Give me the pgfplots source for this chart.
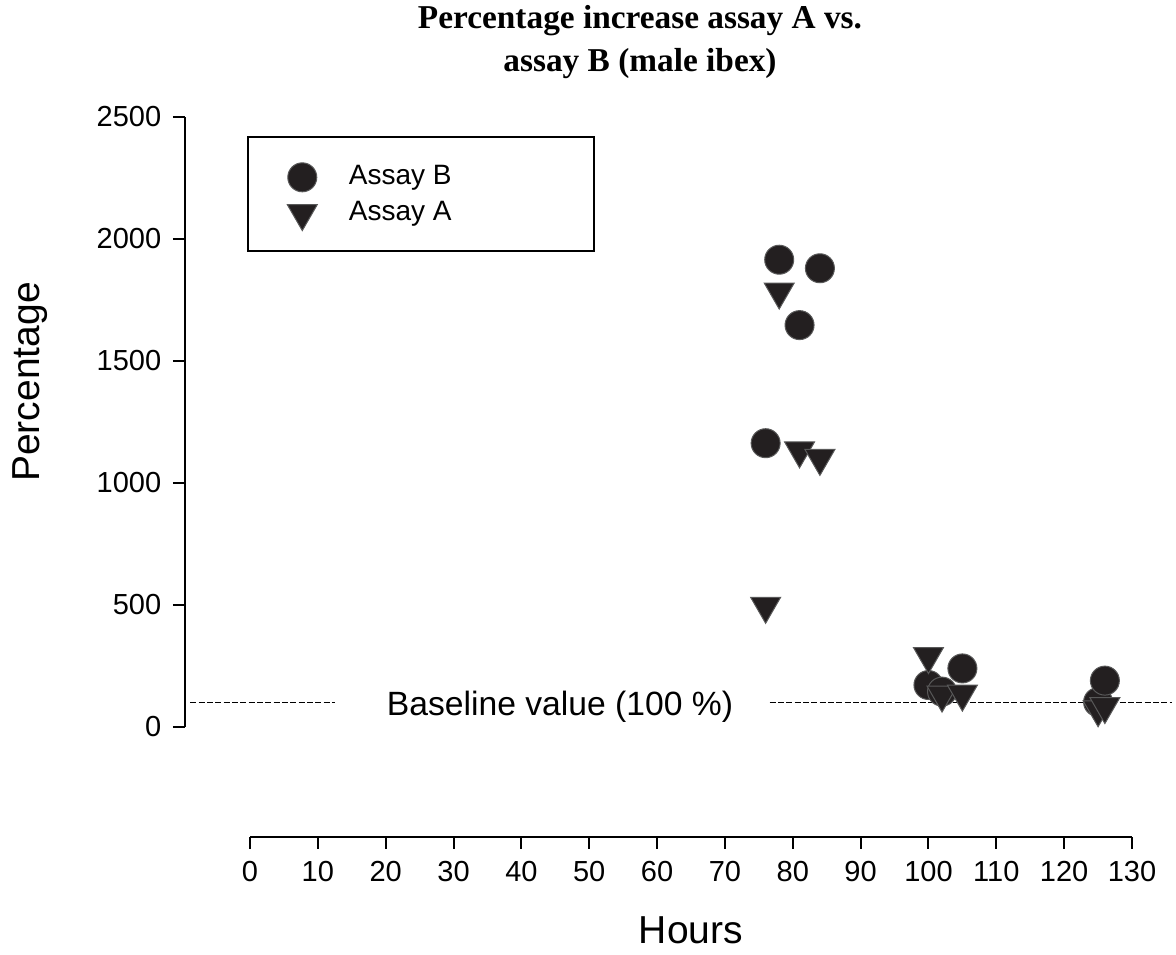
\documentclass[border=0pt]{standalone}
\usepackage{pgfplots}
\pgfplotsset{compat=1.18}
\usepackage{fontspec}
\setmainfont{Liberation Sans}
\newfontfamily\titlefont{Liberation Serif}
\definecolor{markfill}{RGB}{35,31,32}

% Assay B (circles) and Assay A (triangles), hours vs percentage
\pgfplotstableread{
x y
78 1915
84 1880
81 1647
76 1163
100 172
102 145
105 240
125 102
126 190
}\assayB
\pgfplotstableread{
x y
78 1784
81 1133
84 1102
76 496
100 290
102 132
105 136
125 72
126 85
}\assayA

\begin{document}
\begin{tikzpicture}
\path (-55.5pt,-66.9pt) rectangle (297.3pt,218.1pt);
\begin{axis}[
  at={(0,0)}, anchor=south west,
  scale only axis, width=284.1pt, height=183pt,
  xmin=-9.58, xmax=130, ymin=0, ymax=2500,
  axis x line=none, axis y line*=left,
  ytick={0,500,...,2500},
  tick align=outside, major tick length=3.6pt,
  axis line style={line width=0.6pt},
  tick style={line width=0.6pt, black},
  /pgf/number format/assume math mode=true,
  /pgf/number format/1000 sep={},
  yticklabel style={font=\fontsize{8.7}{10}\selectfont},
  clip=false,
  legend style={at={(0.1073,0.933)}, anchor=north west, draw=none, fill=none,
    inner sep=0pt, font=\fontsize{8.4}{10}\selectfont, row sep=-0.5pt,
    cells={anchor=west},
    /tikz/every odd column/.append style={column sep=7.5pt}},
  legend cell align=left,
]
\addplot[only marks, mark=*, mark size=4.35pt,
  mark options={fill=markfill, draw=black!65, line width=0.3pt}] table {\assayB};
\addlegendentry{Assay B}
\addplot[only marks, mark=triangle*, mark size=5.2pt,
  mark options={rotate=180, fill=markfill, draw=black!65, line width=0.3pt}] table {\assayA};
\addlegendentry{Assay A}
\draw[line width=0.45pt] (rel axis cs:0.0665,0.967) rectangle (rel axis cs:0.4319,0.7803);
\draw[line width=0.35pt, dash pattern=on 1.8pt off 0.7pt] (axis cs:-8.8,100) -- (axis cs:12.5,100);
\draw[line width=0.35pt, dash pattern=on 1.8pt off 0.7pt] (axis cs:76.6,100) -- (axis cs:135.9,100);
\node[font=\fontsize{10.1}{11}\selectfont] at (axis cs:45.7,82) {Baseline value (100 \%)};
\end{axis}
\begin{axis}[
  at={(19.5pt,-33pt)}, anchor=south west,
  scale only axis, width=264.6pt, height=1pt,
  xmin=0, xmax=130, ymin=0, ymax=1,
  axis x line*=bottom, axis y line=none,
  xtick={0,10,...,130},
  tick align=outside, major tick length=3.6pt,
  axis line style={line width=0.6pt},
  tick style={line width=0.6pt, black},
  /pgf/number format/assume math mode=true,
  xticklabel style={font=\fontsize{8.7}{10}\selectfont},
]
\end{axis}
\node[rotate=90, font=\fontsize{11.7}{13}\selectfont] at (-46.5pt,103.5pt) {Percentage};
\node[font=\fontsize{11.7}{13}\selectfont] at (151.8pt,-60.9pt) {Hours};
\node[align=center, inner sep=0pt, font=\titlefont\bfseries\fontsize{10}{12.9}\selectfont] at (136.5pt,205.5pt)
  {Percentage increase assay A vs.\\assay B (male ibex)};
\end{tikzpicture}
\end{document}
